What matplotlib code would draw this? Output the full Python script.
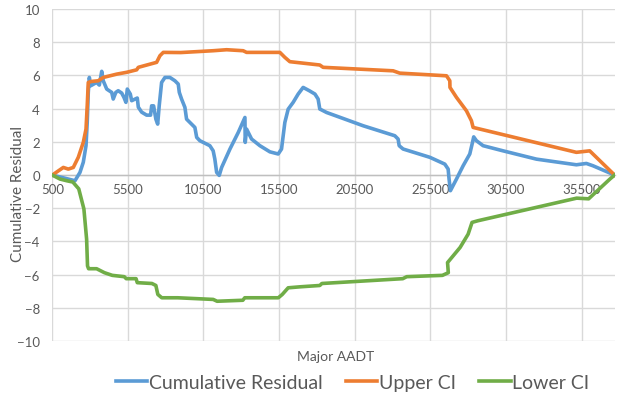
import numpy as np
import matplotlib.pyplot as plt

plt.rcParams["font.family"] = ["Lato", "DejaVu Sans"]

# 读图估计的数据
resid_x = [500, 2000, 2330, 2550, 2730, 2810, 2880, 2950, 3040, 3430, 3610, 3770, 3870,
           4100, 4430, 4530, 4700, 4860, 5090, 5240, 5370, 5460, 5660, 5750, 6120, 6190,
           6410, 6740, 7000, 7070, 7200, 7350, 7470, 7570, 7730, 7950, 8280, 8610, 8830,
           8900, 9050, 9270, 9380, 9710, 9930, 10050, 10260, 10920, 11140, 11250, 11370,
           11540, 11700, 12250, 12800, 13240, 13260, 13350, 13680, 14230, 14890, 15440,
           15660, 15880, 16100, 16430, 16760, 17090, 17500, 17870, 18080, 18190, 18640,
           19520, 21060, 23150, 23370, 23440, 23700, 25470, 26460, 26680, 26740, 26830,
           27230, 27670, 28110, 28290, 28370, 28550, 28990, 30310, 32520, 35160, 35820,
           36260, 37690]
resid_y = [0, -0.34, 0.16, 0.77, 1.77, 3.17, 4.98, 5.88, 5.38, 5.58, 5.42, 6.25, 5.68,
           5.18, 4.98, 4.58, 4.98, 5.08, 4.94, 4.68, 4.38, 5.18, 4.88, 4.48, 4.64, 4.09,
           3.79, 3.61, 3.61, 4.17, 4.17, 3.37, 3.07, 4.17, 5.58, 5.88, 5.88, 5.68, 5.48,
           4.98, 4.58, 4.08, 3.37, 3.07, 2.87, 2.27, 2.07, 1.77, 1.46, 0.96, 0.16,
           -0.02, 0.46, 1.57, 2.57, 3.47, 1.97, 2.77, 2.17, 1.77, 1.40, 1.27,
           1.57, 3.17, 3.97, 4.38, 4.88, 5.28, 5.08, 4.88, 4.58, 3.98, 3.77,
           3.48, 2.97, 2.37, 2.17, 1.77, 1.57, 1.07, 0.66, 0.36, -0.24, -0.94,
           -0.24, 0.56, 1.27, 1.97, 2.30, 2.07, 1.77, 1.46, 0.96, 0.62, 0.70,
           0.56, 0]

upper_x = [500, 1230, 1560, 1890, 2220, 2550, 2730, 2810, 2880, 3100, 3540, 3870, 4760,
           5420, 6080, 6190, 7400, 7620, 7840, 9000, 11140, 12030, 13120, 13350, 15550,
           15880, 16210, 18190, 18410, 23040, 23480, 26570, 26790, 26800, 27230, 27890,
           28220, 28330, 35160, 36040, 37690]
upper_y = [0, 0.46, 0.36, 0.46, 1.07, 1.97, 2.77, 4.17, 5.58, 5.64, 5.68, 5.88, 6.08,
           6.19, 6.34, 6.49, 6.79, 7.19, 7.39, 7.38, 7.49, 7.55, 7.49, 7.39, 7.39,
           7.09, 6.83, 6.63, 6.49, 6.28, 6.14, 5.98, 5.68, 5.28, 4.68, 3.87,
           3.27, 2.87, 1.37, 1.46, 0]

lower_x = [500, 1010, 1450, 1860, 2250, 2590, 2770, 2830, 2900, 3430, 3950, 4470, 5260,
           5390, 6040, 6120, 7090, 7350, 7480, 7740, 8790, 11140, 11400, 13100, 13230,
           15450, 15710, 16100, 16890, 18190, 18330, 23680, 23940, 26300, 26690, 26640,
           27470, 28000, 28260, 28650, 35180, 35970, 37400, 37690]
lower_y = [0, -0.24, -0.34, -0.42, -0.83, -2.04, -3.86, -5.47, -5.64, -5.64, -5.88, -6.04,
           -6.12, -6.24, -6.24, -6.48, -6.53, -6.65, -7.19, -7.39, -7.39, -7.49, -7.60,
           -7.54, -7.39, -7.39, -7.19, -6.79, -6.73, -6.65, -6.53, -6.24, -6.12, -6.04,
           -5.88, -5.27, -4.36, -3.56, -2.85, -2.75, -1.39, -1.43, -0.22, 0]

x_ticks = list(range(500, 35501, 5000))
y_ticks = list(range(-10, 11, 2))

fig = plt.figure(figsize=(6.21, 4.02), dpi=100)
ax = fig.add_axes([0.0842, 0.149, 0.9058, 0.826])

lw = 2.6
ax.plot(resid_x, resid_y, color="#5B9BD5", lw=lw, solid_joinstyle="round",
        label="Cumulative Residual", zorder=3)
ax.plot(upper_x, upper_y, color="#ED7D31", lw=lw, solid_joinstyle="round",
        label="Upper CI", zorder=3)
ax.plot(lower_x, lower_y, color="#70AD47", lw=lw, solid_joinstyle="round",
        label="Lower CI", zorder=3)

ax.set_xlim(500, 37700)
ax.set_ylim(-10, 10)
ax.set_xticks(x_ticks)
ax.set_yticks(y_ticks)
ax.grid(True, color="#d9d9d9", linewidth=1)
ax.set_axisbelow(True)

for s in ["top", "right", "left"]:
    ax.spines[s].set_visible(False)
ax.spines["bottom"].set_position(("data", 0))
ax.spines["bottom"].set_color("#bfbfbf")
ax.spines["bottom"].set_linewidth(1)

ax.tick_params(axis="both", length=0, labelsize=9.5, labelcolor="#595959")
ax.tick_params(axis="x", pad=6)
ax.tick_params(axis="y", pad=9)

# 轴标题
fig.text(0.029, 0.517, "Cumulative Residual", rotation=90, ha="center", va="center",
         fontsize=11, color="#595959")
fig.text(0.541, 0.112, "Major AADT", ha="center", va="center", fontsize=10, color="#595959")

fig.legend(loc="center", bbox_to_anchor=(0.568, 0.047), ncol=3, frameon=False,
           fontsize=14, handlelength=1.6, handletextpad=0.1, columnspacing=1.2,
           labelcolor="#595959")

fig.savefig("out.png", dpi=100)
